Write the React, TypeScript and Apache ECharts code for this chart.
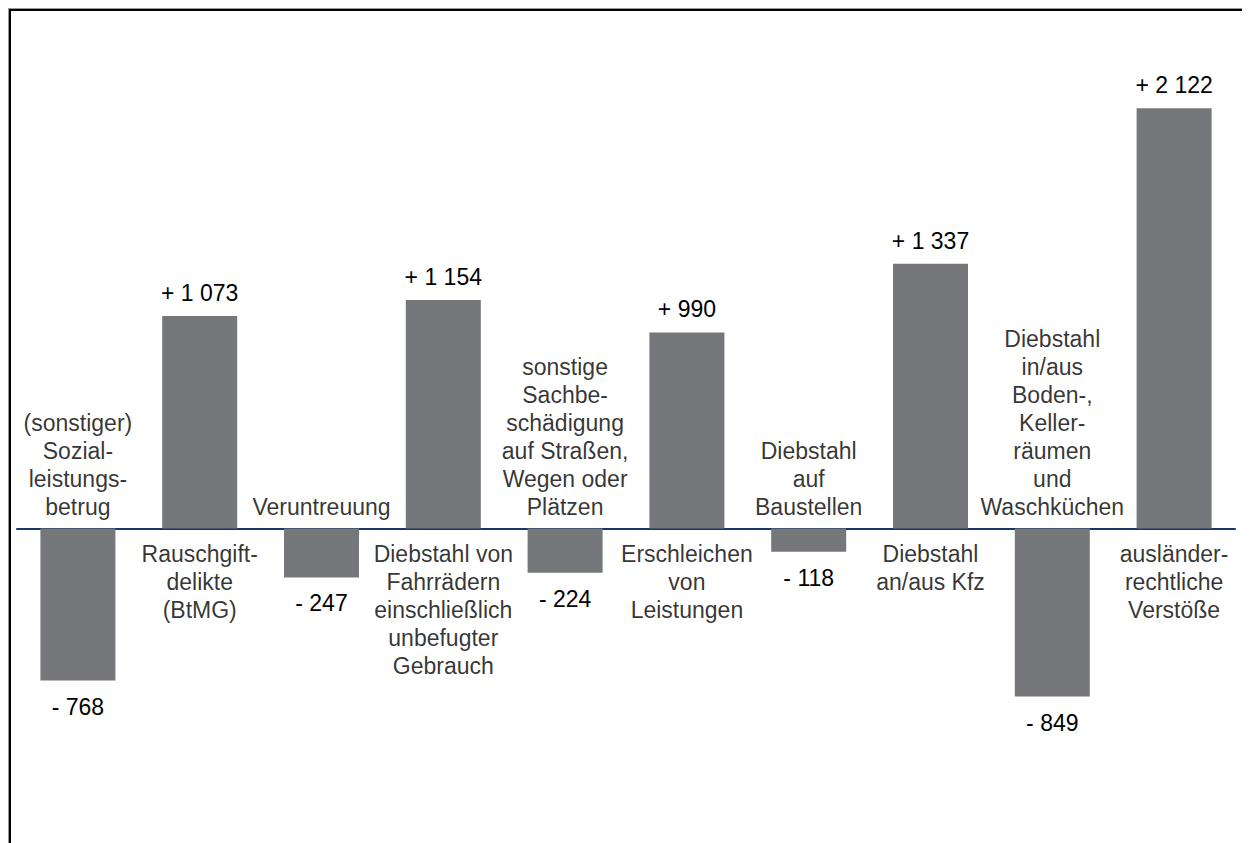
import React, { useEffect, useRef } from "react";
import * as echarts from "echarts";

const categories: string[] = [
  "(sonstiger)\nSozial-\nleistungs-\nbetrug",
  "Rauschgift-\ndelikte\n(BtMG)",
  "Veruntreuung",
  "Diebstahl von\nFahrrädern\neinschließlich\nunbefugter\nGebrauch",
  "sonstige\nSachbe-\nschädigung\nauf Straßen,\nWegen oder\nPlätzen",
  "Erschleichen\nvon\nLeistungen",
  "Diebstahl\nauf\nBaustellen",
  "Diebstahl\nan/aus Kfz",
  "Diebstahl\nin/aus\nBoden-,\nKeller-\nräumen\nund\nWaschküchen",
  "ausländer-\nrechtliche\nVerstöße",
];

const changes: number[] = [-768, 1073, -247, 1154, -224, 990, -118, 1337, -849, 2122];

const FONT = "Liberation Sans, Arial, Helvetica, sans-serif";

function formatChange(v: number): string {
  const abs = Math.abs(v)
    .toString()
    .replace(/\B(?=(\d{3})+(?!\d))/g, " ");
  return (v < 0 ? "- " : "+ ") + abs;
}

export default function App() {
  const ref = useRef<HTMLDivElement>(null);

  useEffect(() => {
    document.documentElement.style.overflow = "hidden";
    document.body.style.overflow = "hidden";
    if (!ref.current) return;
    const chart = echarts.init(ref.current, undefined, { renderer: "svg" });
    const textBase = {
      fontFamily: FONT,
      fontSize: 23,
      lineHeight: 28,
      color: "#000",
      align: "center" as const,
    };
    chart.setOption({
      animation: false,
      grid: { left: 6, width: 1218, top: 22.5, height: 693, containLabel: false },
      xAxis: {
        type: "category",
        data: categories,
        axisLine: { show: true, onZero: true, lineStyle: { color: "#1b3566", width: 2 } },
        axisTick: { show: false },
        axisLabel: { show: false },
        splitLine: { show: false },
      },
      yAxis: {
        type: "value",
        min: -1000,
        max: 2500,
        show: false,
        splitLine: { show: false },
      },
      series: [
        {
          type: "bar",
          barWidth: 75,
          itemStyle: { color: "#76777a" },
          data: changes.map((v) => ({
            value: v,
            label: {
              show: true,
              position: v < 0 ? "bottom" : "top",
              distance: v < 0 ? 12 : 9,
              formatter: () => formatChange(v),
              ...textBase,
            },
          })),
        },
        {
          type: "scatter",
          symbolSize: 0,
          silent: true,
          itemStyle: { color: "transparent" },
          data: changes.map((v, i) => ({
            value: [i, 0],
            label: {
              show: true,
              position: v < 0 ? "top" : "bottom",
              distance: v < 0 ? 8 : 11,
              formatter: () => categories[i],
              ...textBase,
            },
          })),
        },
      ],
    });
    return () => chart.dispose();
  }, []);

  return (
    <div
      style={{
        width: 1242,
        height: 850,
        borderTop: "1px solid #999",
        borderLeft: "1px solid #999",
        boxSizing: "border-box",
        background: "#fff",
      }}
    >
      <div
        style={{
          width: 1241,
          height: 849,
          borderTop: "2px solid #000",
          borderLeft: "2px solid #000",
          boxSizing: "border-box",
        }}
      >
        <div ref={ref} style={{ width: 1239, height: 840 }} />
      </div>
    </div>
  );
}
